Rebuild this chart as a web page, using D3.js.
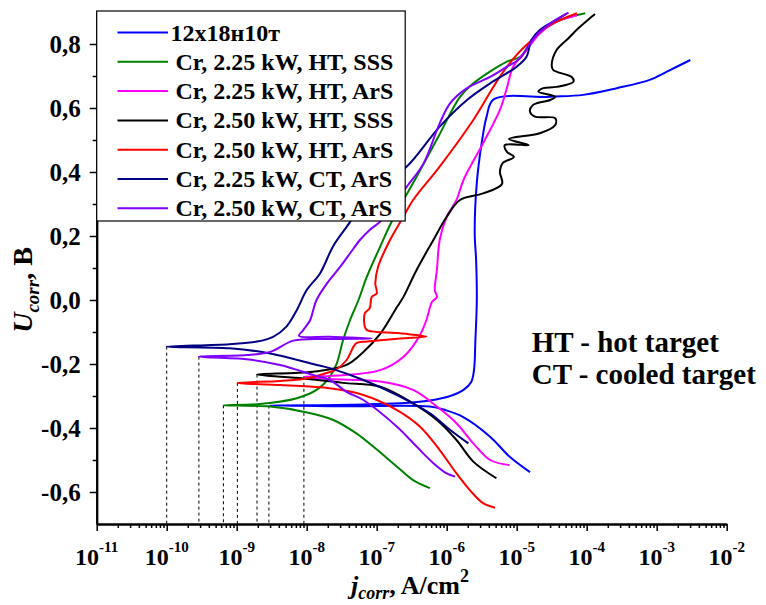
<!DOCTYPE html>
<html><head><meta charset="utf-8">
<script src="https://cdn.jsdelivr.net/npm/d3@7"></script>
<style>
body{margin:0;background:#fff}
svg{display:block}
text{font-family:"Liberation Serif","Times New Roman",serif;font-weight:bold;fill:#000}
</style>
</head><body><svg id="c" width="766" height="605"></svg>
<script>
// ---- data: [log10(j, A/cm2), U (V)] ----
const seriesNames = ["12x18н10т","Cr, 2.25 kW, HT, SSS","Cr, 2.25 kW, HT, ArS","Cr, 2.50 kW, HT, SSS","Cr, 2.50 kW, HT, ArS","Cr, 2.25 kW, CT, ArS","Cr, 2.50 kW, CT, ArS"];
const seriesColors = ["#0000ff","#008000","#ff00ff","#000000","#ff0000","#000080","#8000ff"];

const steel12x18 = [[-4.81,-0.538],[-5.10,-0.49],[-5.38,-0.427],[-5.77,-0.365],[-6.02,-0.344],[-6.24,-0.333],[-7.38,-0.332],[-8.54,-0.33],[-7.38,-0.327],[-6.67,-0.323],[-6.24,-0.314],[-5.95,-0.30],[-5.76,-0.281],[-5.65,-0.256],[-5.61,-0.219],[-5.59,-0.125],[-5.57,0],[-5.58,0.125],[-5.60,0.209],[-5.57,0.366],[-5.50,0.491],[-5.43,0.573],[-5.33,0.627],[-4.52,0.635],[-4.05,0.641],[-3.57,0.662],[-3.10,0.688],[-2.86,0.713],[-2.52,0.75]];
const cr225htSSS = [[-6.24,-0.588],[-6.48,-0.563],[-6.71,-0.521],[-7.05,-0.458],[-7.29,-0.417],[-7.62,-0.375],[-8.05,-0.349],[-8.52,-0.333],[-9.19,-0.329],[-8.67,-0.325],[-8.14,-0.307],[-7.86,-0.281],[-7.67,-0.24],[-7.57,-0.198],[-7.48,-0.125],[-7.38,-0.0625],[-7.26,0],[-7.14,0.073],[-6.95,0.167],[-6.76,0.256],[-6.43,0.385],[-6.12,0.51],[-5.81,0.635],[-5.62,0.677],[-5.14,0.745],[-4.95,0.76],[-4.76,0.818],[-4.43,0.87],[-4.02,0.896]];
const cr225htArS = [[-5.10,-0.516],[-5.38,-0.5],[-5.62,-0.448],[-5.86,-0.385],[-6.14,-0.333],[-6.48,-0.281],[-6.95,-0.255],[-7.67,-0.247],[-8.04,-0.24],[-7.67,-0.2375],[-6.95,-0.219],[-6.62,-0.178],[-6.38,-0.109],[-6.29,-0.0625],[-6.21,-0.006],[-6.14,0.009],[-6.17,0.031],[-6.14,0.094],[-6.10,0.1875],[-6.0,0.26],[-5.86,0.3125],[-5.76,0.375],[-5.48,0.49],[-5.24,0.594],[-5.14,0.6625],[-5.05,0.729],[-4.86,0.781],[-4.67,0.833],[-4.43,0.87],[-4.14,0.89]];
const cr250htSSS = [[-5.29,-0.557],[-5.62,-0.505],[-5.86,-0.4375],[-6.14,-0.375],[-6.48,-0.323],[-6.95,-0.271],[-7.48,-0.259],[-8.05,-0.245],[-8.71,-0.233],[-7.91,-0.224],[-7.43,-0.203],[-7.19,-0.1625],[-6.95,-0.106],[-6.71,-0.022],[-6.62,0.009],[-6.43,0.094],[-6.19,0.1875],[-6.0,0.26],[-5.81,0.3125],[-5.48,0.333],[-5.21,0.3625],[-5.24,0.4],[-5.20,0.428],[-5.04,0.447],[-5.14,0.463],[-5.17,0.484],[-4.83,0.484],[-5.11,0.503],[-4.67,0.521],[-4.45,0.547],[-4.45,0.568],[-4.74,0.573],[-4.81,0.588],[-4.77,0.609],[-4.52,0.625],[-4.45,0.635],[-4.69,0.651],[-4.62,0.662],[-4.43,0.666],[-4.19,0.682],[-4.21,0.696],[-4.48,0.719],[-4.50,0.734],[-4.43,0.781],[-4.26,0.818],[-4.12,0.849],[-3.93,0.885],[-3.88,0.894]];
const cr250htArS = [[-5.31,-0.649],[-5.48,-0.635],[-5.67,-0.594],[-5.86,-0.542],[-6.10,-0.469],[-6.38,-0.396],[-6.71,-0.344],[-7.19,-0.297],[-7.67,-0.276],[-8.38,-0.266],[-8.99,-0.259],[-8.38,-0.253],[-8.05,-0.247],[-7.76,-0.231],[-7.57,-0.216],[-7.43,-0.1875],[-7.29,-0.135],[-7.14,-0.130],[-6.67,-0.12],[-6.29,-0.114],[-6.67,-0.104],[-7.14,-0.094],[-7.17,-0.083],[-7.17,-0.042],[-7.10,-0.026],[-7.07,0.010],[-7.0,0.021],[-7.02,0.052],[-6.98,0.104],[-6.81,0.1875],[-6.62,0.26],[-6.48,0.3125],[-6.10,0.417],[-5.62,0.5625],[-5.24,0.698],[-5.0,0.766],[-4.81,0.807],[-4.57,0.854],[-4.14,0.896]];
const cr225ctArS = [[-5.69,-0.448],[-5.95,-0.406],[-6.24,-0.354],[-6.71,-0.297],[-7.19,-0.25],[-7.67,-0.213],[-7.91,-0.2],[-8.52,-0.167],[-9.10,-0.151],[-10.0,-0.146],[-9.10,-0.138],[-8.71,-0.130],[-8.48,-0.115],[-8.29,-0.083],[-8.14,-0.031],[-8.0,0.031],[-7.81,0.083],[-7.62,0.169],[-7.38,0.244],[-7.19,0.3125],[-6.88,0.369],[-6.57,0.417],[-6.10,0.542],[-5.71,0.625],[-5.38,0.677],[-5.0,0.729],[-4.86,0.76],[-4.79,0.8125],[-4.67,0.844],[-4.48,0.87],[-4.29,0.894]];
const cr250ctArS = [[-5.88,-0.552],[-6.0,-0.542],[-6.19,-0.51],[-6.43,-0.458],[-6.71,-0.396],[-7.19,-0.3125],[-7.43,-0.287],[-7.67,-0.25],[-7.91,-0.234],[-8.38,-0.203],[-8.86,-0.185],[-9.54,-0.177],[-8.86,-0.172],[-8.52,-0.162],[-8.19,-0.127],[-7.67,-0.122],[-7.07,-0.12],[-7.67,-0.115],[-8.11,-0.112],[-8.05,-0.094],[-7.95,-0.0625],[-7.91,-0.034],[-7.86,0],[-7.71,0.052],[-7.52,0.104],[-7.38,0.146],[-7.24,0.1875],[-7.10,0.219],[-6.95,0.245],[-6.74,0.303],[-6.57,0.354],[-6.33,0.427],[-6.10,0.552],[-5.95,0.615],[-5.71,0.662],[-5.38,0.697],[-5.14,0.729],[-4.95,0.755],[-4.81,0.802],[-4.67,0.838],[-4.48,0.87],[-4.26,0.898]];
const seriesData = [steel12x18, cr225htSSS, cr225htArS, cr250htSSS, cr250htArS, cr225ctArS, cr250ctArS];

// corrosion points (dashed drop lines)
const jcorrLog = [-10.0, -9.54, -9.19, -8.99, -8.71, -8.54, -8.04];
const ecorrU   = [-0.146, -0.177, -0.329, -0.259, -0.233, -0.33, -0.24];

const xMajorExp = [-11,-10,-9,-8,-7,-6,-5,-4,-3,-2];
const yMajor = [-0.6,-0.4,-0.2,0.0,0.2,0.4,0.6,0.8];
const yMinor = [-0.5,-0.3,-0.1,0.1,0.3,0.5,0.7];
const notes = ["HT - hot target","CT - cooled target"];

// ---- drawing ----
const svg = d3.select("#c");
svg.append("rect").attr("width",766).attr("height",605).attr("fill","#fff");
const x = d3.scaleLog().domain([1e-11,1e-2]).range([96.7,726.7]);
const y = d3.scaleLinear().domain([-0.7,0.9]).range([524,12]);
const X = lg => x(Math.pow(10,lg));

// dashed drop lines
jcorrLog.forEach((lg,i)=>{
  svg.append("line").attr("x1",X(lg)).attr("x2",X(lg))
    .attr("y1",y(ecorrU[i])).attr("y2",y(-0.7))
    .attr("stroke","#000").attr("stroke-width",1).attr("stroke-dasharray","3,3");
});

// curves
const line = d3.line().x(d=>X(d[0])).y(d=>y(d[1])).curve(d3.curveCatmullRom.alpha(0.5));
seriesData.forEach((s,i)=>{
  svg.append("path").attr("d",line(s)).attr("fill","none")
    .attr("stroke",seriesColors[i]).attr("stroke-width",2).attr("stroke-linejoin","round");
});

// axes
const xMajor = xMajorExp.map(e=>Math.pow(10,e));
const xMinor = [];
xMajorExp.slice(0,-1).forEach(e=>{for(let m=2;m<=9;m++) xMinor.push(m*Math.pow(10,e));});
const gx = svg.append("g").attr("transform","translate(0,524)");
gx.call(d3.axisBottom(x).tickValues(xMajor).tickSize(7).tickSizeOuter(0).tickFormat(""));
gx.append("g").call(d3.axisBottom(x).tickValues(xMinor).tickSize(4).tickSizeOuter(0).tickFormat(""));
gx.selectAll("path.domain").attr("stroke-width",2);
gx.selectAll(".tick line").attr("stroke-width",1.5);
xMajorExp.forEach(e=>{
  const t = svg.append("text").attr("x",x(Math.pow(10,e))).attr("y",565)
    .attr("text-anchor","middle").style("font-size","24px");
  t.append("tspan").text("10");
  t.append("tspan").attr("dy",-13.5).style("font-size","15px").text(String(e));
});

const gy = svg.append("g").attr("transform","translate(96.7,0)");
gy.call(d3.axisLeft(y).tickValues(yMajor).tickSize(7).tickPadding(9).tickSizeOuter(0)
  .tickFormat(d=>d3.format(".1f")(d).replace("−","-").replace(".",",")));
gy.append("g").call(d3.axisLeft(y).tickValues(yMinor).tickSize(4).tickSizeOuter(0).tickFormat(""));
gy.selectAll("path.domain").attr("stroke-width",2);
gy.selectAll(".tick line").attr("stroke-width",1.5);
gy.selectAll(".tick text").style("font-size","25px").style("font-family","'Liberation Serif','Times New Roman',serif").style("font-weight","bold");

// axis titles
const yl = svg.append("text").attr("transform","translate(32,290) rotate(-90)")
  .attr("text-anchor","middle").style("font-size","28px");
yl.append("tspan").style("font-style","italic").text("U");
yl.append("tspan").attr("dy",7).style("font-style","italic").style("font-size","19px").text("corr");
yl.append("tspan").attr("dy",-7).text(", B");

const xl = svg.append("text").attr("x",410).attr("y",594)
  .attr("text-anchor","middle").style("font-size","26px");
xl.append("tspan").style("font-style","italic").text("j");
xl.append("tspan").attr("dy",5).style("font-style","italic").style("font-size","18px").text("corr");
xl.append("tspan").attr("dy",-5).text(", A/cm");
xl.append("tspan").attr("dy",-12).style("font-size","18px").text("2");

// annotation
notes.forEach((t,i)=>{
  svg.append("text").attr("x",531.7).attr("y",351.7+i*32.3).style("font-size","29px").text(t);
});

// legend
const lg = svg.append("g");
lg.append("rect").attr("x",96.7).attr("y",11).attr("width",308.5).attr("height",210)
  .attr("fill","#fff").attr("stroke","#000").attr("stroke-width",1.2);
seriesNames.forEach((n,i)=>{
  const cy = 32.5 + i*29.3;
  lg.append("line").attr("x1",117.5).attr("x2",168).attr("y1",cy).attr("y2",cy)
    .attr("stroke",seriesColors[i]).attr("stroke-width",2);
  lg.append("text").attr("x", i===0 ? 170.5 : 175.5).attr("y",cy+8)
    .style("font-size","24px").text(n);
});
</script></body></html>
